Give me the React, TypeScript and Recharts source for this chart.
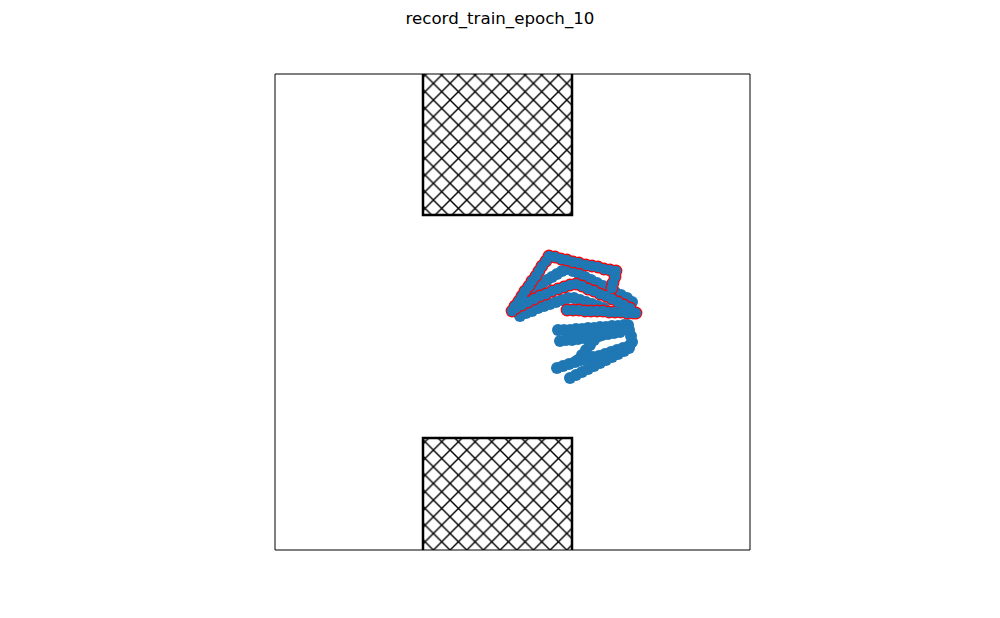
import { ReferenceArea, Scatter, ScatterChart, XAxis, YAxis } from "recharts"

const TITLE = "record_train_epoch_10"

// plot extent in data units
const X_DOMAIN: [number, number] = [0, 475]
const Y_DOMAIN: [number, number] = [0, 476]

// walls (hatched obstacles)
const WALL_X: [number, number] = [148, 297]
const TOP_WALL_Y: [number, number] = [335, 500]
const BOTTOM_WALL_Y: [number, number] = [-24, 112]

// recorded episode (red edge + dashed path)
const TRACE_X = [
  292, 298, 304, 310, 316, 322, 328, 334, 340, 346, 352, 358, 361,
  355, 349, 343, 337, 331, 325, 319, 313, 307, 301, 295, 289, 283, 277, 271, 265, 259, 253, 247, 241, 237,
  240, 244, 247, 250, 254, 257, 261, 264, 267, 271, 274,
  280, 286, 292, 298, 304, 311, 317, 323, 329, 335, 341,
  340, 338, 337,
]
const TRACE_Y = [
  240, 240, 240, 239, 239, 239, 239, 238, 238, 238, 237, 237, 237,
  242, 245, 248, 251, 254, 256, 259, 261, 264, 266, 265, 263, 261, 259, 256, 254, 251, 248, 245, 242, 239,
  244, 249, 254, 259, 264, 269, 274, 279, 284, 289, 294,
  293, 291, 290, 288, 287, 285, 284, 283, 281, 280, 279,
  273, 267, 262,
]

// other visited states
const VISITED_X = [
  247, 252, 257, 262, 267, 272, 277, 282, 287, 292, 298, 304, 310, 316, 322, 328, 334, 340, 346, 352, 357,
  245, 251, 257, 263, 269, 275, 281, 287, 293, 299, 305, 311, 317, 323, 329,
  283, 289, 295, 301, 307, 313, 319, 325, 331, 337, 343, 349, 353,
  285, 291, 297, 303, 309, 315, 321, 327, 333, 339, 345,
  303, 307, 311, 315, 319, 324, 329,
  282, 288, 294, 300, 306, 312, 318, 324, 330, 336, 342, 348, 354, 357, 356, 354,
  295, 301, 307, 313, 319, 325, 331, 337, 343, 349, 354,
]
const VISITED_Y = [
  250, 254, 258, 262, 266, 270, 273, 276, 279, 281, 279, 276, 273, 270, 267, 264, 261, 258, 255, 252, 248,
  234, 237, 239, 242, 244, 246, 248, 250, 252, 252, 250, 248, 246, 244, 242,
  220, 220, 220, 221, 221, 222, 222, 223, 223, 224, 224, 225, 225,
  209, 210, 210, 211, 212, 213, 214, 215, 216, 217, 218,
  190, 195, 200, 205, 210, 214, 218,
  182, 184, 186, 188, 190, 192, 193, 194, 196, 198, 200, 202, 204, 208, 214, 220,
  172, 175, 178, 181, 184, 187, 190, 193, 196, 199, 202,
]

const BLUE = "#1f77b4"
const RED = "#ff0000"

const tracePoints = TRACE_X.map((x, i) => ({ x, y: TRACE_Y[i] }))
const visitedPoints = VISITED_X.map((x, i) => ({ x, y: VISITED_Y[i] }))

const BlueDot = (props: any) => (
  <circle cx={props.cx} cy={props.cy} r={6} fill={BLUE} />
)

const InnerDot = (props: any) => (
  <circle cx={props.cx} cy={props.cy} r={5.3} fill={BLUE} />
)

const RedRing = (props: any) => (
  <circle cx={props.cx} cy={props.cy} r={6.4} fill={RED} />
)

export default function App() {
  return (
    <div
      style={{
        position: "absolute",
        left: 0,
        top: 0,
        width: 1000,
        height: 618,
        background: "#fff",
        fontFamily: "'DejaVu Sans', sans-serif",
      }}
    >
      <svg width={0} height={0} style={{ position: "absolute" }}>
        <defs>
          <pattern
            id="hatch"
            patternUnits="userSpaceOnUse"
            width={16.67}
            height={16.67}
          >
            <rect width={16.67} height={16.67} fill="#fff" />
            <path
              d="M0,0L16.67,16.67M16.67,0L0,16.67"
              stroke="#000"
              strokeWidth={1.4}
            />
          </pattern>
        </defs>
      </svg>
      <div
        style={{
          position: "absolute",
          top: 9,
          left: 0,
          width: 1000,
          textAlign: "center",
          fontSize: 16.67,
          lineHeight: "20px",
          color: "#000",
        }}
      >
        {TITLE}
      </div>
      <div style={{ position: "absolute", left: 0, top: 0 }}>
        <ScatterChart
          width={1000}
          height={618}
          margin={{ top: 74, right: 250, bottom: 68, left: 275 }}
        >
          <XAxis type="number" dataKey="x" domain={X_DOMAIN} hide allowDataOverflow />
          <YAxis type="number" dataKey="y" domain={Y_DOMAIN} hide allowDataOverflow />
          <ReferenceArea
            x1={WALL_X[0]}
            x2={WALL_X[1]}
            y1={TOP_WALL_Y[0]}
            y2={TOP_WALL_Y[1]}
            fill="url(#hatch)"
            fillOpacity={1}
            stroke="#000"
            strokeWidth={2.5}
            ifOverflow="hidden"
          />
          <ReferenceArea
            x1={WALL_X[0]}
            x2={WALL_X[1]}
            y1={BOTTOM_WALL_Y[0]}
            y2={BOTTOM_WALL_Y[1]}
            fill="url(#hatch)"
            fillOpacity={1}
            stroke="#000"
            strokeWidth={2.5}
            ifOverflow="hidden"
          />
          <ReferenceArea
            x1={X_DOMAIN[0]}
            x2={X_DOMAIN[1]}
            y1={Y_DOMAIN[0]}
            y2={Y_DOMAIN[1]}
            fill="none"
            stroke="#000"
            strokeWidth={1}
          />
          <Scatter
            data={visitedPoints}
            shape={BlueDot}
            isAnimationActive={false}
          />
          <Scatter
            data={tracePoints}
            shape={RedRing}
            line={{ stroke: RED, strokeWidth: 1, strokeDasharray: "4 2" }}
            isAnimationActive={false}
          />
          <Scatter
            data={tracePoints}
            shape={InnerDot}
            isAnimationActive={false}
          />
        </ScatterChart>
      </div>
    </div>
  )
}
